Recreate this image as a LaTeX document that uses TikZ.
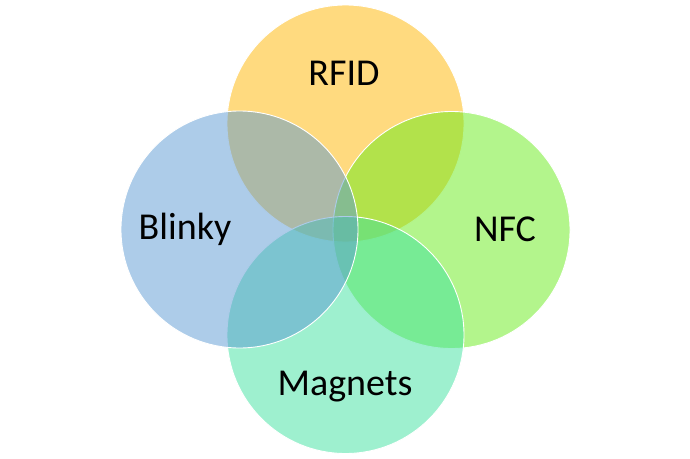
\documentclass[tikz,border=0pt]{standalone}
\usepackage{fontspec}
\setmainfont{Carlito}
\definecolor{cRFID}{HTML}{FFB500}
\definecolor{cBlinky}{HTML}{5B99D3}
\definecolor{cNFC}{HTML}{67EB19}
\definecolor{cMag}{HTML}{3DE19F}
\begin{document}
\begin{tikzpicture}[x=1pt,y=-1pt,
  venn/.style={circle,minimum size=237pt,inner sep=0pt,draw=white,line width=0.9pt,fill opacity=0.5},
  lbl/.style={font=\fontsize{38}{42}\selectfont,anchor=base,inner sep=0pt}]
\useasboundingbox (0,0) rectangle (690,458);
\node[venn,fill=cRFID] (rfid) at (345.5,123.5) {};
\node[venn,fill=cNFC] (nfc) at (451.5,230) {};
\node[venn,fill=cMag] (mag) at (345.5,335) {};
\node[venn,fill=cBlinky] (blinky) at (239.5,229.5) {};
\node[lbl] (trfid) at (344,85) {RFID};
\node[lbl] (tblinky) at (185,239) {Blinky};
\node[lbl] (tnfc) at (505,241) {NFC};
\node[lbl] (tmag) at (345,395) {Magnets};
\end{tikzpicture}
\end{document}
